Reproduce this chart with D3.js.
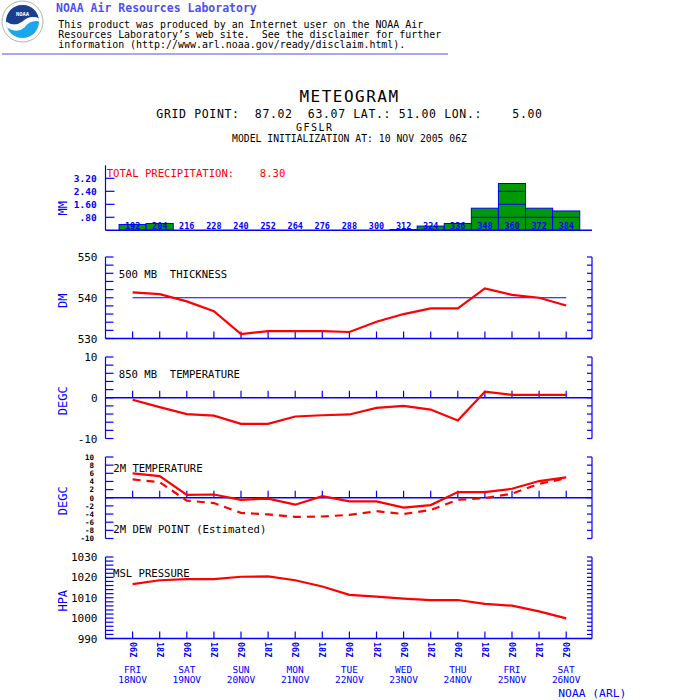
<!DOCTYPE html>
<html><head><meta charset="utf-8">
<script src="https://cdn.jsdelivr.net/npm/d3@7"></script>
<style>
body{margin:0;background:#fff}
svg{display:block}
text{font-family:"DejaVu Sans Mono",monospace;white-space:pre}
</style>
</head><body>
<svg id="c" width="700" height="700"></svg>
<script>
// ---------------- data ----------------
const forecastHours = [192,204,216,228,240,252,264,276,288,300,312,324,336,348,360,372,384];
const tickLabels = ["06Z","18Z","06Z","18Z","06Z","18Z","06Z","18Z","06Z","18Z","06Z","18Z","06Z","18Z","06Z","18Z","06Z"];
const dayNames = ["FRI","SAT","SUN","MON","TUE","WED","THU","FRI","SAT"];
const dayDates = ["18NOV","19NOV","20NOV","21NOV","22NOV","23NOV","24NOV","25NOV","26NOV"];
const precipitation = [0.36,0.42,0,0,0,0,0,0,0,0,0.05,0.26,0.42,1.36,2.88,1.36,1.19];
const precipTicks = [0.8,1.6,2.4,3.2];
const thickness500 = [541.3,540.9,539.1,536.7,531.1,531.8,531.8,531.8,531.6,534.1,536.0,537.4,537.4,542.3,540.7,540.0,538.1];
const temp850 = [-0.5,-2.3,-4.0,-4.4,-6.4,-6.4,-4.6,-4.3,-4.1,-2.5,-2.0,-2.9,-5.6,1.5,0.7,0.7,0.7];
const temp2m = [6.0,5.3,0.7,0.8,-0.5,-0.2,-1.7,0.4,-0.9,-0.9,-2.4,-1.8,1.4,1.4,2.2,4.1,5.0];
const dewpoint2m = [4.5,3.8,-0.7,-1.3,-3.7,-4.1,-4.7,-4.6,-4.2,-3.3,-4.0,-3.0,-0.5,-0.1,1.0,3.4,4.8];
const mslPressure = [1016.7,1018.6,1019.1,1019.1,1020.3,1020.5,1018.6,1015.5,1011.4,1010.6,1009.6,1008.8,1008.9,1007.0,1006.1,1003.3,999.9];
const totalPrecip = "8.30";

// ---------------- setup ----------------
const svg = d3.select("#c");
const BLUE = "#0000ff", RED = "#ff0000", GREEN = "#009900", HEAD = "#5050f0";
const LEFT = 105.5, RIGHT = 592;
const x = d3.scaleLinear().domain([0, forecastHours.length - 1]).range([132.6, 566.2]);
const step = x(1) - x(0);

function txt(g, s, px, py, size, color, anchor) {
  return g.append("text").attr("x", px).attr("y", py).attr("font-size", size)
    .attr("fill", color || "#000").attr("text-anchor", anchor || "start")
    .attr("xml:space", "preserve").text(s);
}

// ---------------- header ----------------
const defs = svg.append("defs");
defs.append("clipPath").attr("id", "lc").append("circle").attr("r", 16.5);
const logo = svg.append("g").attr("transform", "translate(22.5,21.5)");
logo.append("circle").attr("r", 20.5).attr("fill", "#fff").attr("stroke", "#9a9a9a").attr("stroke-width", 0.8);
const lg = logo.append("g").attr("clip-path", "url(#lc)");
lg.append("rect").attr("x", -17).attr("y", -17).attr("width", 34).attr("height", 34).attr("fill", "#1aa6ea");
lg.append("path").attr("d", "M-17,-17 H17 V-3 Q8,-7 0,0 Q-8,6 -17,0 Z").attr("fill", "#1d3d90");
lg.append("path").attr("d", "M-17,0 Q-8,6 0,0 Q8,-7 17,-3 L17,0 Q8,-2 2,6 Q-6,13 -17,5 Z").attr("fill", "#fff");
logo.append("text").attr("y", -6).attr("text-anchor", "middle").attr("font-size", 5.5)
  .attr("font-weight", "bold").attr("fill", "#fff").text("NOAA");

txt(svg, "NOAA Air Resources Laboratory", 56, 12, 11.5, HEAD).attr("font-weight", "bold");
txt(svg, "This product was produced by an Internet user on the NOAA Air", 58.3, 28, 9.95);
txt(svg, "Resources Laboratory\u2019s web site.  See the disclaimer for further", 58.3, 38, 9.95);
txt(svg, "information (http://www.arl.noaa.gov/ready/disclaim.html).", 58.3, 48, 9.95);
svg.append("line").attr("x1", 2).attr("x2", 448).attr("y1", 54).attr("y2", 54)
  .attr("stroke", HEAD).attr("stroke-width", 1);

// ---------------- titles ----------------
txt(svg, "METEOGRAM", 349.5, 101.7, 16, "#000", "middle").attr("letter-spacing", 1.5);
txt(svg, "GRID POINT:  87.02  63.07 LAT.: 51.00 LON.:    5.00", 349.5, 118.3, 11.5, "#000", "middle").attr("letter-spacing", 0.65);
txt(svg, "GFSLR", 296, 130.7, 10, "#000").attr("letter-spacing", 1.45);
txt(svg, "MODEL INITIALIZATION AT: 10 NOV 2005 06Z", 349.5, 142.3, 9.75, "#000", "middle");

// ---------------- precipitation panel ----------------
const yP = d3.scaleLinear().domain([0, 4]).range([230.3, 165.3]);
const gp = svg.append("g");
gp.selectAll("rect.bar").data(precipitation.map((v, i) => ({v, i})).filter(d => d.v > 0))
  .join("rect").attr("class", "bar")
  .attr("x", d => x(d.i) - step / 2).attr("width", step)
  .attr("y", d => yP(d.v)).attr("height", d => yP(0) - yP(d.v))
  .attr("fill", GREEN).attr("stroke", BLUE).attr("stroke-width", 1);
const inner = [];
precipitation.forEach((v, i) => precipTicks.forEach(t => { if (t < v) inner.push({i, t}); }));
gp.selectAll("line.inner").data(inner).join("line").attr("class", "inner")
  .attr("x1", d => x(d.i) - step / 2).attr("x2", d => x(d.i) + step / 2)
  .attr("y1", d => yP(d.t)).attr("y2", d => yP(d.t)).attr("stroke", BLUE);
gp.selectAll("text.hr").data(forecastHours).join("text").attr("class", "hr")
  .attr("x", (d, i) => x(i)).attr("y", yP(0) - 1).attr("text-anchor", "middle")
  .attr("font-size", 8.5).attr("fill", BLUE).attr("font-weight", "bold").text(d => d);
gp.append("line").attr("x1", LEFT).attr("x2", RIGHT).attr("y1", yP(0)).attr("y2", yP(0)).attr("stroke", BLUE).attr("stroke-width", 1.5);
gp.append("line").attr("x1", LEFT).attr("x2", LEFT).attr("y1", yP(0)).attr("y2", yP(4)).attr("stroke", BLUE).attr("stroke-width", 1.2);
gp.selectAll("line.pt").data(precipTicks).join("line").attr("class", "pt")
  .attr("x1", LEFT).attr("x2", LEFT + 9).attr("y1", d => yP(d)).attr("y2", d => yP(d)).attr("stroke", BLUE).attr("stroke-width", 1.2);
gp.selectAll("text.pl").data(precipTicks).join("text").attr("class", "pl")
  .attr("x", 96.7).attr("y", d => yP(d) + 3.5).attr("text-anchor", "end")
  .attr("font-size", 9.5).attr("fill", BLUE).attr("font-weight", "bold")
  .text(d => d3.format(".2f")(d).replace(/^0/, ""));
txt(gp, "TOTAL PRECIPITATION:    " + totalPrecip, 106.7, 176.7, 10.6, RED);
txt(gp, "MM", 0, 0, 12, BLUE, "middle").attr("transform", `translate(67,${yP(1.35)}) rotate(-90)`);

// ---------------- line panels ----------------
const H = 81.5;
function panel(o) {
  const g = svg.append("g");
  const y = d3.scaleLinear().domain(o.domain).range([o.top + H, o.top]);
  const ticks = d3.range(o.domain[0], o.domain[1] + 0.001, 2);
  // left axis
  g.append("line").attr("x1", LEFT).attr("x2", LEFT).attr("y1", y(o.domain[0])).attr("y2", y(o.domain[1])).attr("stroke", BLUE).attr("stroke-width", 1.2);
  g.selectAll("line.lt").data(ticks).join("line").attr("class", "lt")
    .attr("x1", LEFT).attr("x2", LEFT + 8).attr("y1", d => y(d)).attr("y2", d => y(d)).attr("stroke", BLUE).attr("stroke-width", 1.2);
  g.selectAll("text.ll").data(o.labels).join("text").attr("class", "ll")
    .attr("x", o.labelX).attr("y", d => y(d) + o.labelSize * 0.37).attr("text-anchor", "end")
    .attr("font-size", o.labelSize).attr("font-weight", o.labelWeight || null).text(d => d);
  // right axis
  g.append("line").attr("x1", RIGHT).attr("x2", RIGHT).attr("y1", y(o.domain[0])).attr("y2", y(o.domain[1])).attr("stroke", BLUE).attr("stroke-width", 1.2);
  g.selectAll("line.rt").data(ticks).join("line").attr("class", "rt")
    .attr("x1", RIGHT - 5).attr("x2", RIGHT).attr("y1", d => y(d)).attr("y2", d => y(d)).attr("stroke", BLUE).attr("stroke-width", 1.2);
  // horizontal axis with time ticks
  g.append("line").attr("x1", LEFT).attr("x2", RIGHT).attr("y1", y(o.axisAt)).attr("y2", y(o.axisAt)).attr("stroke", BLUE).attr("stroke-width", 1.5);
  g.selectAll("line.xt").data(forecastHours).join("line").attr("class", "xt")
    .attr("x1", (d, i) => x(i)).attr("x2", (d, i) => x(i))
    .attr("y1", y(o.axisAt)).attr("y2", y(o.axisAt) - 7).attr("stroke", BLUE).attr("stroke-width", 1.2);
  // unit label
  txt(g, o.unit, 0, 0, 12, BLUE, "middle").attr("transform", `translate(67,${o.top + H / 2 + 3}) rotate(-90)`);
  // title(s)
  o.titles.forEach(t => txt(g, t.s, t.x, t.y, 10.6, "#000"));
  if (o.ref !== undefined) {
    g.append("line").attr("x1", x(0)).attr("x2", x(forecastHours.length - 1))
      .attr("y1", y(o.ref)).attr("y2", y(o.ref)).attr("stroke", BLUE).attr("stroke-width", 1.2);
  }
  const line = d3.line().x((d, i) => x(i)).y(d => y(d));
  o.series.forEach(s => {
    g.append("path").attr("d", line(s.values)).attr("fill", "none")
      .attr("stroke", RED).attr("stroke-width", 2.2)
      .attr("stroke-dasharray", s.dash ? "8,6" : null);
  });
  return {g, y};
}

panel({top: 257, domain: [530, 550], labels: [530, 540, 550], labelX: 97.5, labelSize: 11,
  axisAt: 530, ref: 540, unit: "DM",
  titles: [{s: "500 MB  THICKNESS", x: 118.8, y: 277.7}],
  series: [{values: thickness500}]});

panel({top: 357, domain: [-10, 10], labels: [-10, 0, 10], labelX: 97.5, labelSize: 11,
  axisAt: 0, unit: "DEGC",
  titles: [{s: "850 MB  TEMPERATURE", x: 118.8, y: 377.7}],
  series: [{values: temp850}]});

panel({top: 457, domain: [-10, 10], labels: d3.range(-10, 11, 2), labelX: 94, labelSize: 7.5, labelWeight: "bold",
  axisAt: 0, unit: "DEGC",
  titles: [{s: "2M TEMPERATURE", x: 113.3, y: 472.3}, {s: "2M DEW POINT (Estimated)", x: 113.3, y: 533.3}],
  series: [{values: temp2m}, {values: dewpoint2m, dash: true}]});

const ms = panel({top: 557, domain: [990, 1030], labels: [990, 1000, 1010, 1020, 1030], labelX: 97.5, labelSize: 11,
  axisAt: 990, unit: "HPA",
  titles: [{s: "MSL PRESSURE", x: 113, y: 576.7}],
  series: [{values: mslPressure}]});

// rotated time labels
ms.g.selectAll("text.tl").data(tickLabels).join("text").attr("class", "tl")
  .attr("transform", (d, i) => `translate(${x(i) - 3},642) rotate(90)`)
  .attr("font-size", 8.5).attr("fill", BLUE).attr("font-weight", "bold").text(d => d);

// day labels at 06Z ticks
const gd = svg.append("g");
gd.selectAll("text.dn").data(dayNames).join("text").attr("class", "dn")
  .attr("x", (d, i) => x(i * 2)).attr("y", 673).attr("text-anchor", "middle")
  .attr("font-size", 9.5).attr("fill", BLUE).text(d => d);
gd.selectAll("text.dd").data(dayDates).join("text").attr("class", "dd")
  .attr("x", (d, i) => x(i * 2)).attr("y", 682.5).attr("text-anchor", "middle")
  .attr("font-size", 9.5).attr("fill", BLUE).text(d => d);
txt(svg, "NOAA (ARL)", 558.3, 696.7, 11.3, BLUE);
</script>
</body></html>
